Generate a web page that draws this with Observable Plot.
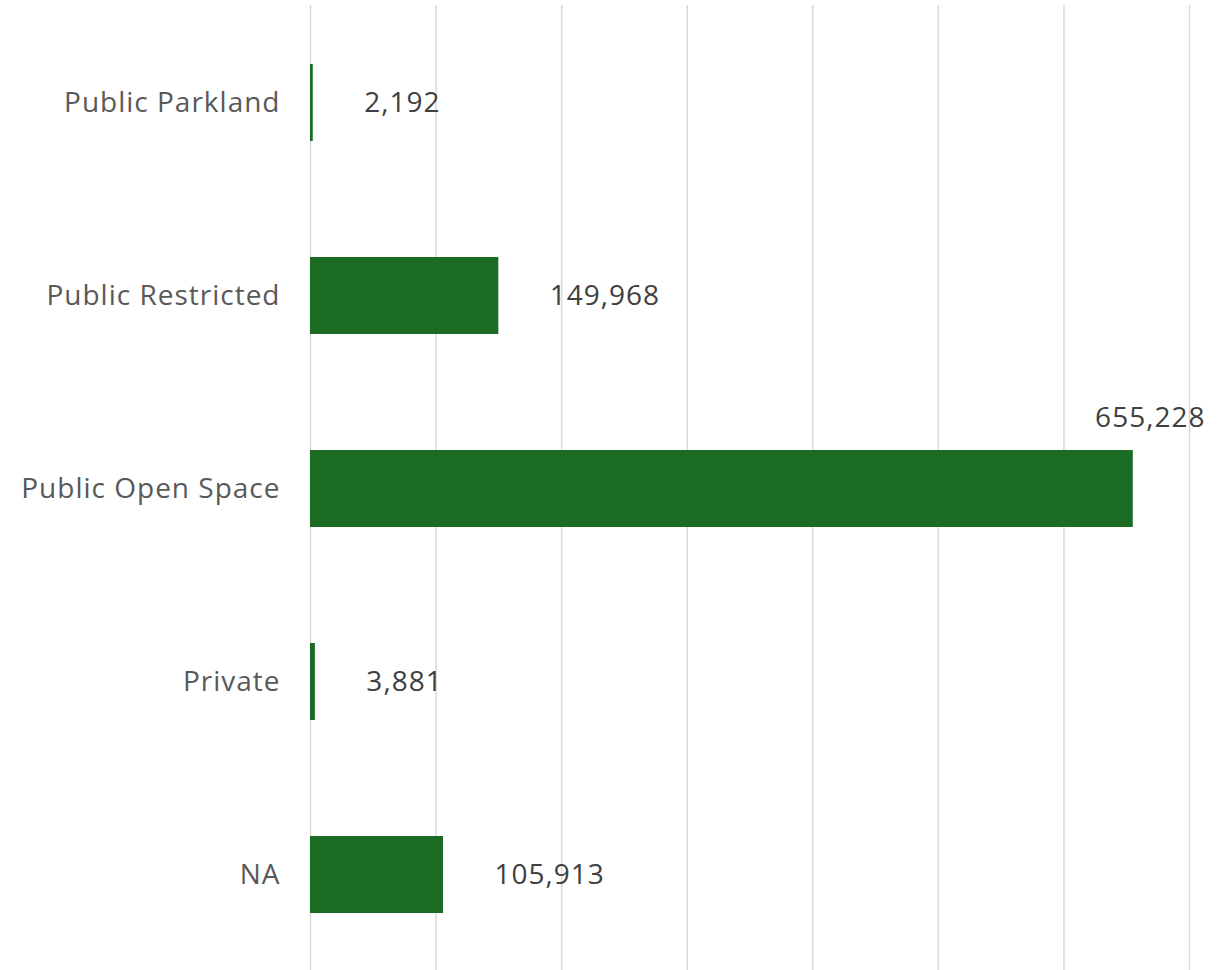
<!DOCTYPE html>
<html>
<head>
<meta charset="utf-8">
<script src="https://cdn.jsdelivr.net/npm/d3@7"></script>
<script src="https://cdn.jsdelivr.net/npm/@observablehq/plot@0.6"></script>
<style>
  html, body { margin: 0; padding: 0; background: #fff; }
  #chart svg { display: block; }
  #chart svg text { letter-spacing: 1px; }
</style>
</head>
<body>
<div id="chart"></div>
<script>
const categories = ["Public Parkland", "Public Restricted", "Public Open Space", "Private", "NA"];
const values = [2192, 149968, 655228, 3881, 105913];
const gridTicks = [0, 100000, 200000, 300000, 400000, 500000, 600000, 700000];

const data = categories.map((c, i) => ({category: c, value: values[i]}));
const fmt = d3.format(",");
const maxV = d3.max(values);
const besideData = data.filter(d => d.value !== maxV);
const aboveData = data.filter(d => d.value === maxV);

const FONT = "'Open Sans', sans-serif";

const chart = Plot.plot({
  width: 1223,
  height: 970,
  marginLeft: 310,
  marginRight: 34,
  marginTop: 5,
  marginBottom: 0,
  style: {fontFamily: FONT, background: "#fff"},
  x: {domain: [0, 700000], axis: null},
  y: {domain: categories, range: [5, 973], paddingInner: 0.6, paddingOuter: 0.3, label: null},
  marks: [
    Plot.gridX(gridTicks, {stroke: "#d9d9d9", strokeOpacity: 1, strokeWidth: 1.5}),
    Plot.barX(data, {x: "value", y: "category", fill: "#1b6b24"}),
    Plot.axisY({tickSize: 0, tickPadding: 30, fontSize: 28, color: "#595959", label: null}),
    Plot.text(besideData, {x: "value", y: "category", text: d => fmt(d.value), textAnchor: "start", dx: 51, fontSize: 28, fill: "#404040"}),
    Plot.text(aboveData, {x: "value", y: "category", text: d => fmt(d.value), textAnchor: "middle", dx: 17, dy: -71, fontSize: 28, fill: "#404040"})
  ]
});
document.getElementById("chart").appendChild(chart);
</script>
</body>
</html>
